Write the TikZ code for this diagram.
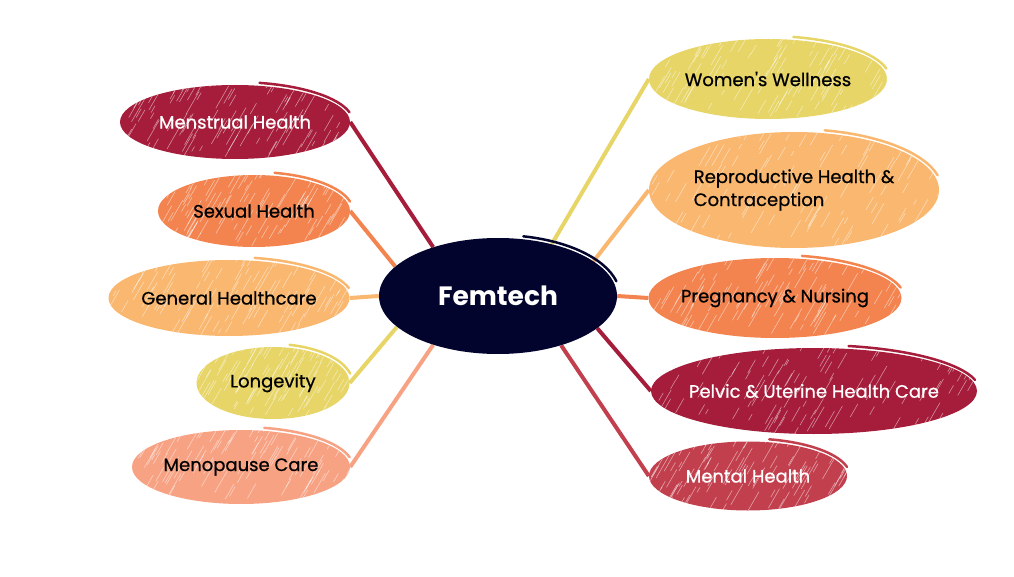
\documentclass[tikz,border=0pt]{standalone}
\usepackage{fontspec}
\setmainfont{Poppins}
\newfontfamily\leaffont{Poppins}[FakeBold=0.7]
\usetikzlibrary{shapes.geometric, backgrounds, calc}
\definecolor{crimson}{HTML}{A51D3A}
\definecolor{coral}{HTML}{F3844F}
\definecolor{apricot}{HTML}{F9B76F}
\definecolor{mustard}{HTML}{E7D567}
\definecolor{salmon}{HTML}{F8A284}
\definecolor{rosered}{HTML}{C2404E}
\definecolor{navy}{HTML}{03042E}
\tikzset{
	hatch/.style={path picture={
		\coordinate (sw) at (path picture bounding box.south west);
		\coordinate (ne) at (path picture bounding box.north east);
		\foreach \k in {1,...,110}{
			\pgfmathsetmacro{\hx}{rnd}
			\pgfmathsetmacro{\hy}{rnd}
			\pgfmathsetmacro{\hl}{5+22*rnd}
			\coordinate (hx) at ($(sw)!\hx!(sw-|ne)$);
			\coordinate (hy) at ($(sw)!\hy!(sw|-ne)$);
			\draw[white, opacity=.5, line width=.6pt, line cap=round](hx|-hy)--++(60:\hl pt);
		}}},
	leaf/.style={ellipse, inner ysep=0pt, inner xsep=-40pt, hatch, font=\leaffont\fontsize{18}{23}\selectfont},
	link/.style={line width=4pt},
}
% brush flick at the top right: node, x radius, y radius, colour
\newcommand{\brushtail}[4]{%
	\draw[#4, line width=2.5pt, line cap=round]($(#1.center)+(78:#2pt+3pt and #3pt+3pt)$)
		arc[start angle=78, end angle=14, x radius=#2pt+3pt, y radius=#3pt+3pt];}

\begin{document}
\begin{tikzpicture}[x=1pt, y=-1pt]
			\pgfmathsetseed{7}
			\useasboundingbox(0,0) rectangle (1014,577);
			\node[ellipse, fill=navy, text=white, minimum width=238pt, minimum height=116pt, font=\fontsize{26.5}{30}\selectfont\bfseries](femtech) at (498,296){Femtech};
			% left side
			\node[leaf, fill=crimson, text=white, minimum width=230pt, minimum height=74pt](menstrual) at (235,122){Menstrual Health};
			\node[leaf, fill=coral, minimum width=192pt, minimum height=72pt](sexual) at (254,211){Sexual Health};
			\node[leaf, fill=apricot, minimum width=241pt, minimum height=76pt](general) at (229,298){General Healthcare};
			\node[leaf, fill=mustard, minimum width=153pt, minimum height=72pt](longevity) at (273,383){Longevity};
			\node[leaf, fill=salmon, minimum width=218pt, minimum height=74pt](menopause) at (241,467){Menopause Care};
			% right side
			\node[leaf, fill=mustard, minimum width=238pt, minimum height=80pt](wellness) at (768,79){Women's Wellness};
			\node[leaf, fill=apricot, minimum width=290pt, minimum height=116pt, align=left](reproductive) at (794,190){Reproductive Health \&\\Contraception};
			\node[leaf, fill=coral, minimum width=253pt, minimum height=80pt](pregnancy) at (775,298){Pregnancy \& Nursing};
			\node[leaf, fill=crimson, text=white, minimum width=326pt, minimum height=86pt](pelvic) at (814,391){Pelvic \& Uterine Health Care};
			\node[leaf, fill=rosered, text=white, minimum width=198pt, minimum height=69pt](mental) at (748,476){Mental Health};
			\brushtail{femtech}{119}{58}{navy}
			\brushtail{menstrual}{115}{37}{crimson}
			\brushtail{sexual}{96}{36}{coral}
			\brushtail{general}{120.5}{38}{apricot}
			\brushtail{longevity}{76.5}{36}{mustard}
			\brushtail{menopause}{109}{37}{salmon}
			\brushtail{wellness}{119}{40}{mustard}
			\brushtail{reproductive}{145}{58}{apricot}
			\brushtail{pregnancy}{126.5}{40}{coral}
			\brushtail{pelvic}{163}{43}{crimson}
			\brushtail{mental}{99}{34.5}{rosered}
			\begin{scope}[on background layer]
				\draw[link, crimson](femtech.143)--(menstrual.east);
				\draw[link, coral](femtech.164)--(sexual.east);
				\draw[link, apricot](femtech.180)--(general.east);
				\draw[link, mustard](femtech.197)--(longevity.east);
				\draw[link, salmon](femtech.217)--(menopause.east);
				\draw[link, mustard](femtech.44)--(wellness.west);
				\draw[link, apricot](femtech.20)--(reproductive.west);
				\draw[link, coral](femtech.0)--(pregnancy.west);
				\draw[link, crimson](femtech.342)--(pelvic.west);
				\draw[link, rosered](femtech.322)--(mental.west);
			\end{scope}
		\end{tikzpicture}
\end{document}
